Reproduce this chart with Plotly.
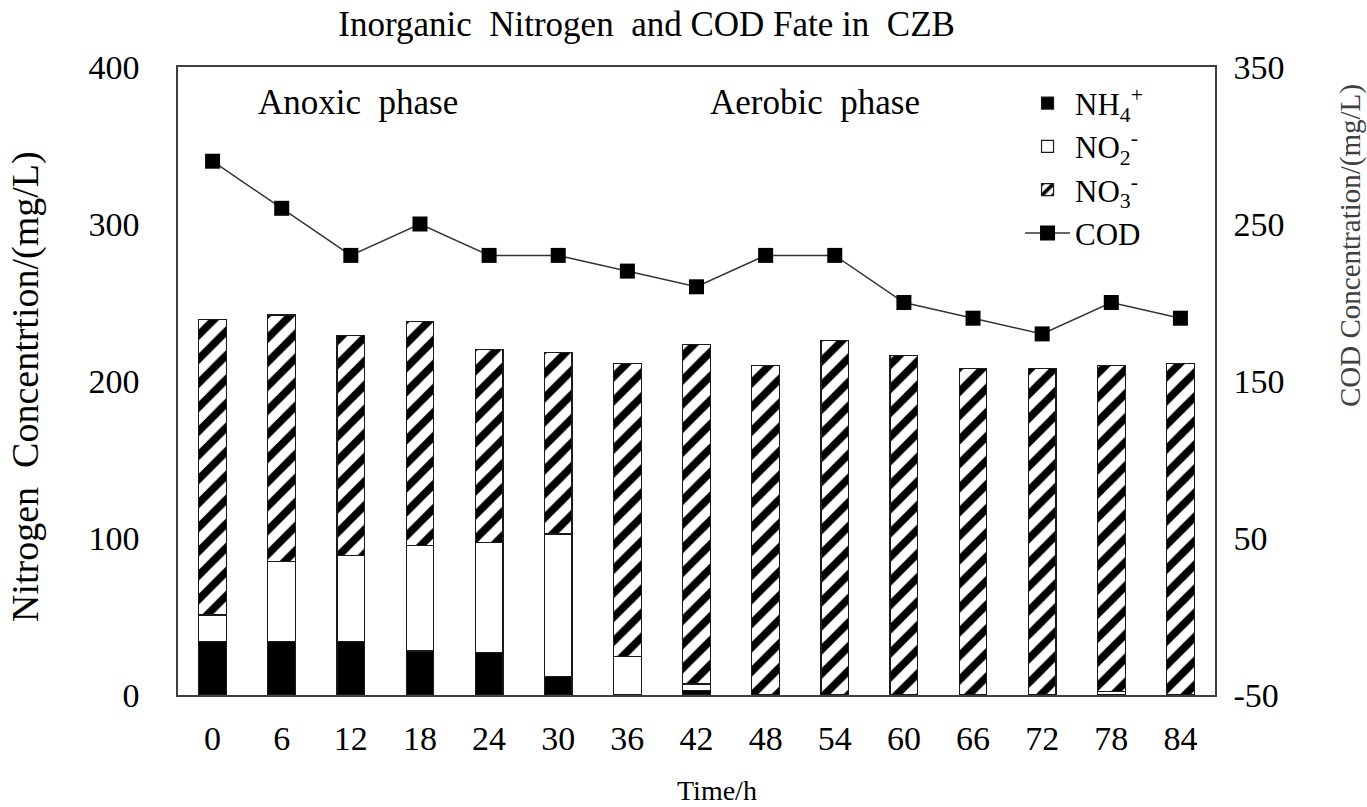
import plotly.graph_objects as go

time_h = ["0", "6", "12", "18", "24", "30", "36", "42", "48", "54", "60", "66", "72", "78", "84"]
nh4 = [34, 34, 34, 28, 27, 12, 0, 3, 0, 0, 0, 0, 0, 0, 0]
no2 = [17, 51, 55, 67, 70, 90.5, 24.5, 4, 0, 0, 0, 0, 0, 2, 0]
no3 = [188, 157, 140, 143, 123, 115.5, 186.5, 216, 210, 226, 216, 208, 208, 208, 211]
cod = [290, 260, 230, 250, 230, 230, 220, 210, 230, 230, 200, 190, 180, 200, 190]
cod_ticks = [-50, 50, 150, 250, 350]
cod_tick_text = ["-50", "50", "150", "250", "350"]

FONT = "Liberation Serif, Times New Roman, serif"
bar_line = dict(color="#1a1a1a", width=1.2)

fig = go.Figure()
fig.add_trace(go.Bar(x=time_h, y=nh4, name="NH<sub>4</sub><sup>+</sup>",
                     marker=dict(color="black", line=bar_line)))
fig.add_trace(go.Bar(x=time_h, y=no2, name="NO<sub>2</sub><sup>-</sup>",
                     marker=dict(color="white", line=bar_line)))
fig.add_trace(go.Bar(x=time_h, y=no3, name="NO<sub>3</sub><sup>-</sup>",
                     marker=dict(color="white", line=bar_line,
                                 pattern=dict(shape="/", fgcolor="black", bgcolor="white",
                                              fgopacity=1, size=17, solidity=0.45))))
fig.add_trace(go.Scatter(x=time_h, y=cod, name="COD", yaxis="y2", mode="lines+markers",
                         line=dict(color="#333333", width=1.5),
                         marker=dict(symbol="square", size=15, color="black")))

fig.update_layout(
    width=1367, height=807,
    margin=dict(l=178, r=152, t=67, b=112),
    paper_bgcolor="white", plot_bgcolor="white",
    font=dict(family=FONT, size=30, color="black"),
    barmode="stack", bargap=0.6,
    title=dict(text="Inorganic  Nitrogen  and COD Fate in  CZB", x=0.473, xanchor="center",
               y=0.97, yanchor="middle", font=dict(family=FONT, size=35, color="black")),
    xaxis=dict(type="category", range=[-0.5, len(time_h) - 0.5], showline=True,
               linecolor="#404040", linewidth=1.5, mirror=True,
               ticks="", ticklabelstandoff=12, tickfont=dict(size=34)),
    yaxis=dict(range=[0, 400], dtick=100, showgrid=False, zeroline=False, showline=True,
               linecolor="#404040", linewidth=1.5, mirror=True, ticks="", ticklabelstandoff=30,
               tickfont=dict(size=34)),
    yaxis2=dict(range=[-50, 350], tickvals=cod_ticks, ticktext=cod_tick_text,
                overlaying="y", side="right",
                showgrid=False, zeroline=False, showline=True, linecolor="#404040",
                linewidth=1.5, ticks="", ticklabelstandoff=10, tickfont=dict(size=34)),
    legend=dict(x=0.812, y=0.985, xanchor="left", yanchor="top", traceorder="normal",
                bgcolor="rgba(0,0,0,0)", font=dict(size=31), itemwidth=45, tracegroupgap=0),
    showlegend=True,
)

fig.add_annotation(text="Time/h", xref="paper", yref="paper",
                   x=(717 - 178) / 1037, y=(695 - 790) / 628, showarrow=False,
                   xanchor="center", yanchor="middle", font=dict(size=28))
fig.add_annotation(text="Nitrogen  Concentrtion/(mg/L)", xref="paper", yref="paper",
                   x=(25 - 178) / 1037, y=(695 - 387) / 628, textangle=-90, showarrow=False,
                   xanchor="center", yanchor="middle", font=dict(size=38))
fig.add_annotation(text="COD Concentration/(mg/L)", xref="paper", yref="paper",
                   x=(1350 - 178) / 1037, y=(695 - 246) / 628, textangle=-90, showarrow=False,
                   xanchor="center", yanchor="middle", font=dict(size=29, color="#404040"))
fig.add_annotation(text="Anoxic  phase", xref="paper", yref="paper",
                   x=(358 - 178) / 1037, y=(695 - 102) / 628, showarrow=False,
                   xanchor="center", yanchor="middle", font=dict(size=35))
fig.add_annotation(text="Aerobic  phase", xref="paper", yref="paper",
                   x=(815 - 178) / 1037, y=(695 - 102) / 628, showarrow=False,
                   xanchor="center", yanchor="middle", font=dict(size=35))

fig.write_html("out.html", config={"displayModeBar": False},
               post_script="document.body.style.margin='0px';")
